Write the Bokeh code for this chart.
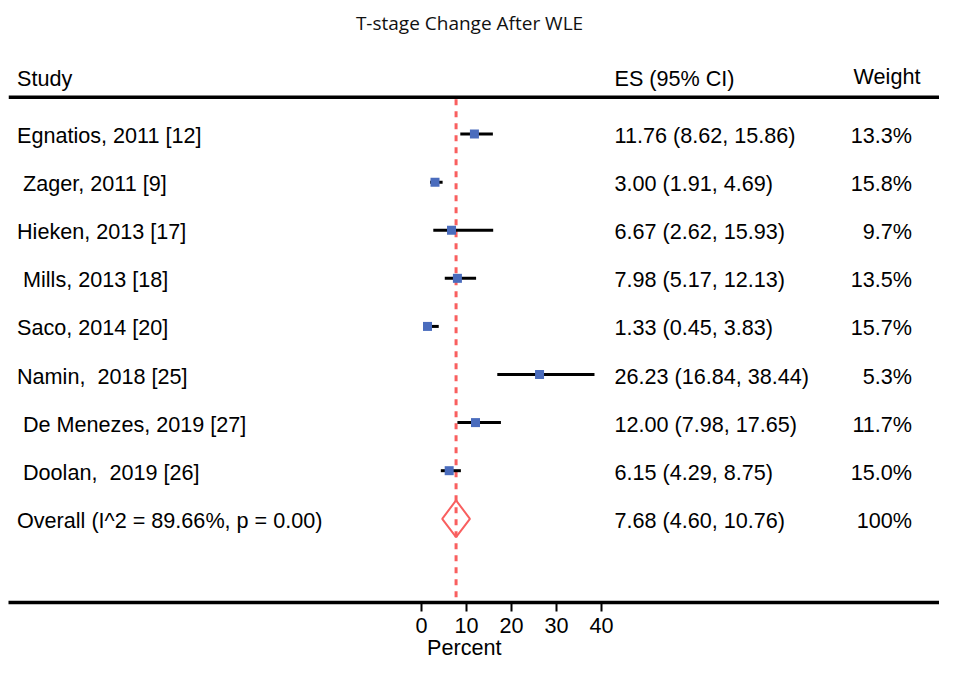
from bokeh.plotting import figure
from bokeh.models import Range1d, FixedTicker, LinearAxis, ColumnDataSource
from bokeh.core.properties import value
from bokeh.embed import file_html
from bokeh.resources import INLINE

# ---------------- data ----------------
title_text = "T-stage Change After WLE"
studies = ["Egnatios, 2011 [12]", " Zager, 2011 [9]", "Hieken, 2013 [17]",
           " Mills, 2013 [18]", "Saco, 2014 [20]", "Namin,  2018 [25]",
           " De Menezes, 2019 [27]", " Doolan,  2019 [26]"]
es = [11.76, 3.00, 6.67, 7.98, 1.33, 26.23, 12.00, 6.15]
ci_low = [8.62, 1.91, 2.62, 5.17, 0.45, 16.84, 7.98, 4.29]
ci_high = [15.86, 4.69, 15.93, 12.13, 3.83, 38.44, 17.65, 8.75]
weights = [13.3, 15.8, 9.7, 13.5, 15.7, 5.3, 11.7, 15.0]
overall_es = 7.68
overall_low = 4.60
overall_high = 10.76
overall_i2 = 89.66
overall_p = 0.00
overall_weight = "100%"
x_ticks = [0, 10, 20, 30, 40]
x_label = "Percent"
headers = ["Study", "ES (95% CI)", "Weight"]

# ---------------- layout constants ----------------
FONT = "Liberation Sans"
FS = "21.6px"
BLUE = "#4a6cbd"
RED = "#f95f5f"

X_START, X_END = -91.78, 115.11          # percent units across the frame
Y_BOTTOM, Y_TOP = 9.7409, -2.7772          # row units (rows run top -> bottom)

n = len(studies)
rows = list(range(n))
overall_row = n

x_study = -89.89
x_es = 42.89
x_weight = 109.0
x_weight_head = 103.44
x_title = 10.667
x_label_pos = 9.5

y_title = -2.311
y_head = -1.150
y_weight_head = -1.19
y_head_line = -0.767
y_dash_top = -0.725
y_dash_bot = 9.637
diamond_h = 0.383


def keep_spaces(s):
    # keep leading / doubled spaces visible in SVG text
    out = s.replace("  ", " \u00a0")
    if out.startswith(" "):
        out = "\u00a0" + out[1:]
    return out


p = figure(width=939, height=662, output_backend="svg", toolbar_location=None,
           x_range=Range1d(X_START, X_END), y_range=Range1d(Y_BOTTOM, Y_TOP),
           min_border_left=8, min_border_right=0, min_border_top=0,
           min_border_bottom=58, y_axis_location=None)
p.outline_line_color = None
p.grid.visible = False
p.background_fill_color = "white"
p.border_fill_color = "white"

# x axis
ax = p.xaxis[0]
ax.ticker = FixedTicker(ticks=x_ticks)
ax.axis_line_width = 3.5
ax.axis_line_color = "black"
ax.major_tick_in = 0
ax.major_tick_out = 9
ax.major_tick_line_width = 2
ax.major_tick_line_color = "black"
ax.minor_tick_in = 0
ax.minor_tick_out = 0
ax.major_label_text_font = FONT
ax.major_label_text_font_size = FS
ax.major_label_text_color = "black"
ax.major_label_standoff = 6

# axis title row ("Percent"), placed under the tick labels
lab_ax = LinearAxis(ticker=FixedTicker(ticks=[x_label_pos]),
                    major_label_overrides={x_label_pos: x_label},
                    axis_line_color=None, major_tick_line_color=None,
                    major_tick_in=0, major_tick_out=0,
                    minor_tick_in=0, minor_tick_out=0,
                    major_label_standoff=-1,
                    major_label_text_font=FONT, major_label_text_font_size=FS,
                    major_label_text_color="black")
p.add_layout(lab_ax, "below")

# header line
p.segment(x0=[X_START], x1=[X_END], y0=[y_head_line], y1=[y_head_line],
          line_color="black", line_width=3.5)

# overall dashed line
p.segment(x0=[overall_es], x1=[overall_es], y0=[y_dash_top], y1=[y_dash_bot],
          line_color=RED, line_width=3, line_dash="6 6")

# confidence intervals and point estimates
src = ColumnDataSource(dict(row=rows, es=es, lo=ci_low, hi=ci_high))
p.segment(x0="lo", x1="hi", y0="row", y1="row", source=src,
          line_color="black", line_width=3)
p.scatter(x="es", y="row", source=src, marker="square", size=9,
          fill_color=BLUE, line_color=None)

# overall diamond
p.patch(x=[overall_low, overall_es, overall_high, overall_es],
        y=[overall_row, overall_row - diamond_h, overall_row, overall_row + diamond_h],
        fill_color=None, line_color=RED, line_width=2)

# text columns
all_rows = rows + [overall_row]
study_txt = [keep_spaces(s) for s in studies] + [
    f"Overall (I^2 = {overall_i2:.2f}%, p = {overall_p:.2f})"]
es_txt = [f"{e:.2f} ({l:.2f}, {h:.2f})" for e, l, h in zip(es, ci_low, ci_high)] + [
    f"{overall_es:.2f} ({overall_low:.2f}, {overall_high:.2f})"]
w_txt = [f"{w:.1f}%" for w in weights] + [overall_weight]

common = dict(text_font=value(FONT), text_font_size=FS, text_color="black",
              text_baseline="alphabetic", y_offset=1.5)
p.text(x=[x_study] * len(all_rows), y=all_rows, text=study_txt, text_align="left", **common)
p.text(x=[x_es] * len(all_rows), y=all_rows, text=es_txt, text_align="left", **common)
p.text(x=[x_weight] * len(all_rows), y=all_rows, text=w_txt, text_align="right", **common)

# headers
hcommon = dict(text_font=value(FONT), text_font_size=FS, text_color="black",
               text_baseline="alphabetic")
p.text(x=[x_study], y=[y_head], text=[headers[0]], text_align="left", **hcommon)
p.text(x=[x_es], y=[y_head], text=[headers[1]], text_align="left", **hcommon)
p.text(x=[x_weight_head], y=[y_weight_head], text=[headers[2]], text_align="center", **hcommon)

# title
p.text(x=[x_title], y=[y_title], text=[title_text], text_align="center",
       text_baseline="alphabetic", text_font=value("Open Sans"),
       text_font_size="19px", text_color="#111111")

open("out.html", "w").write(file_html(p, INLINE))
